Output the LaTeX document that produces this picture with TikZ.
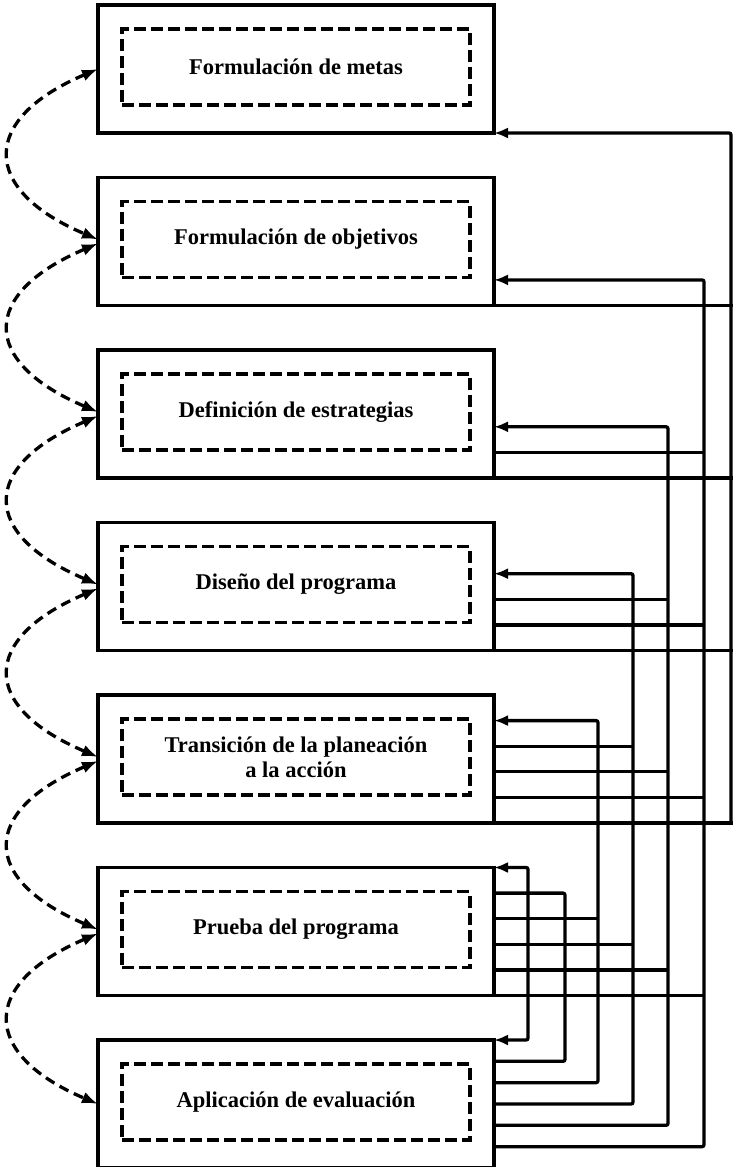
\documentclass[tikz,border=0pt]{standalone}
\usepackage{fontspec}
\setmainfont{Liberation Serif}
\usetikzlibrary{arrows.meta}
\tikzset{
  outerbox/.style={draw, line width=3.6pt, minimum width=396pt, minimum height=128pt, inner sep=0pt, outer sep=0pt},
  innerbox/.style={draw, line width=3.3pt, dash pattern=on 12pt off 5pt, minimum width=348pt, minimum height=76pt, inner sep=0pt, outer sep=0pt, align=center, font=\fontsize{22.5}{25}\selectfont\bfseries},
  fb/.style={line width=3.3pt, rounded corners=2pt},
  fbarr/.style={fb, {Latex[length=14pt,width=11pt]}-},
  fbboth/.style={fb, {Latex[length=14pt,width=11pt]}-{Latex[length=14pt,width=11pt]}},
  loopline/.style={line width=3.3pt, dash pattern=on 10pt off 6pt, {Latex[length=16pt,width=12pt]}-{Latex[length=16pt,width=12pt]}}
}
\begin{document}
\begin{tikzpicture}[x=1pt,y=-1pt]
\useasboundingbox (0,0) rectangle (733,1167);
% boxes
\node[outerbox] (b1) at (296,69) {};
\node[outerbox] (b2) at (296,241.5) {};
\node[outerbox] (b3) at (296,414) {};
\node[outerbox] (b4) at (296,586.5) {};
\node[outerbox] (b5) at (296,759) {};
\node[outerbox] (b6) at (296,931.5) {};
\node[outerbox] (b7) at (296,1104) {};
\node[innerbox] (t1) at ([yshift=2pt]b1.center) {Formulación de metas};
\node[innerbox] (t2) at ([yshift=2pt]b2.center) {Formulación de objetivos};
\node[innerbox] (t3) at ([yshift=2pt]b3.center) {Definición de estrategias};
\node[innerbox] (t4) at ([yshift=2pt]b4.center) {Diseño del programa};
\node[innerbox] (t5) at ([yshift=2pt]b5.center) {Transición de la planeación\\a la acción};
\node[innerbox] (t6) at ([yshift=2pt]b6.center) {Prueba del programa};
\node[innerbox] (t7) at ([yshift=2pt]b7.center) {Aplicación de evaluación};
% vertical positions
\coordinate (v1) at (731,0);
\coordinate (v2) at (704,0);
\coordinate (v3) at (668,0);
\coordinate (v4) at (633,0);
\coordinate (v5) at (598,0);
\coordinate (va) at (565,0);
\coordinate (vb) at (528,0);
\coordinate (edge) at (734,0);
% slots on the right sides
\coordinate (s21) at ([yshift=25.6pt]b2.south east);
\coordinate (s31) at ([yshift=25.6pt]b3.south east);
\coordinate (s32) at ([yshift=51.2pt]b3.south east);
\coordinate (s41) at ([yshift=25.6pt]b4.south east);
\coordinate (s42) at ([yshift=51.2pt]b4.south east);
\coordinate (s43) at ([yshift=76.8pt]b4.south east);
\coordinate (s51) at ([yshift=25.6pt]b5.south east);
\coordinate (s52) at ([yshift=51.2pt]b5.south east);
\coordinate (s53) at ([yshift=76.8pt]b5.south east);
\coordinate (s54) at ([yshift=102.4pt]b5.south east);
\coordinate (s60) at (b6.south east);
\coordinate (s61) at ([yshift=25.6pt]b6.south east);
\coordinate (s62) at ([yshift=51.2pt]b6.south east);
\coordinate (s63) at ([yshift=76.8pt]b6.south east);
\coordinate (s64) at ([yshift=102.4pt]b6.south east);
\coordinate (s65) at (b6.north east);
\coordinate (s71) at ([yshift=21.33pt]b7.south east);
\coordinate (s72) at ([yshift=42.67pt]b7.south east);
\coordinate (s73) at ([yshift=64pt]b7.south east);
\coordinate (s74) at ([yshift=85.33pt]b7.south east);
\coordinate (s75) at ([yshift=106.67pt]b7.south east);
\coordinate (s76) at (b7.north east);
% feedback to box 1
\draw[fbarr] (b1.south east) -| (v1 |- b5.south east);
\draw[fb] (b2.south east) -- (b2.south east -| edge);
\draw[fb] (b3.south east) -- (b3.south east -| edge);
\draw[fb] (b4.south east) -- (b4.south east -| edge);
\draw[fb] (b5.south east) -- (b5.south east -| edge);
% feedback to box 2
\draw[fbarr] (s21) -| (v2 |- s71) -- (s71);
\draw[fb] (s31) -- (s31 -| v2);
\draw[fb] (s41) -- (s41 -| v2);
\draw[fb] (s51) -- (s51 -| v2);
\draw[fb] (s60) -- (s60 -| v2);
% feedback to box 3
\draw[fbarr] (s32) -| (v3 |- s72) -- (s72);
\draw[fb] (s42) -- (s42 -| v3);
\draw[fb] (s52) -- (s52 -| v3);
\draw[fb] (s61) -- (s61 -| v3);
% feedback to box 4
\draw[fbarr] (s43) -| (v4 |- s73) -- (s73);
\draw[fb] (s53) -- (s53 -| v4);
\draw[fb] (s62) -- (s62 -| v4);
% feedback to box 5
\draw[fbarr] (s54) -| (v5 |- s74) -- (s74);
\draw[fb] (s63) -- (s63 -| v5);
% links between boxes 6 and 7
\draw[fb] (s64) -| (va |- s75) -- (s75);
\draw[fbboth] (s65) -| (vb |- s76) -- (s76);
% dashed loops on the left
\draw[loopline] (b1.west) .. controls +(-118,50) and +(-118,-50) .. ([yshift=2pt]b2.west);
\draw[loopline] ([yshift=-2pt]b2.west) .. controls +(-118,50) and +(-118,-50) .. ([yshift=2pt]b3.west);
\draw[loopline] ([yshift=-2pt]b3.west) .. controls +(-118,50) and +(-118,-50) .. ([yshift=2pt]b4.west);
\draw[loopline] ([yshift=-2pt]b4.west) .. controls +(-118,50) and +(-118,-50) .. ([yshift=2pt]b5.west);
\draw[loopline] ([yshift=-2pt]b5.west) .. controls +(-118,50) and +(-118,-50) .. ([yshift=2pt]b6.west);
\draw[loopline] ([yshift=-2pt]b6.west) .. controls +(-118,50) and +(-118,-50) .. (b7.west);
\end{tikzpicture}
\end{document}
